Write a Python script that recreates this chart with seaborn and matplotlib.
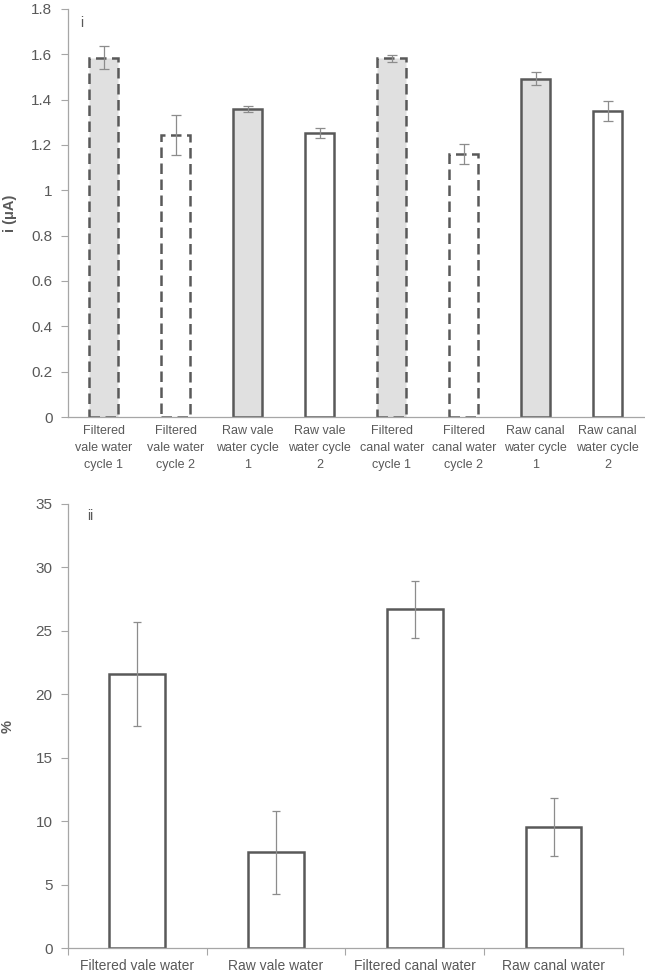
import matplotlib
matplotlib.use("Agg")
import matplotlib.pyplot as plt
import seaborn as sns
import pandas as pd
import numpy as np

# ---- data ----
top_labels = ["Filtered\nvale water\ncycle 1", "Filtered\nvale water\ncycle 2",
              "Raw vale\nwater cycle\n1", "Raw vale\nwater cycle\n2",
              "Filtered\ncanal water\ncycle 1", "Filtered\ncanal water\ncycle 2",
              "Raw canal\nwater cycle\n1", "Raw canal\nwater cycle\n2"]
top_values = [1.585, 1.244, 1.359, 1.254, 1.582, 1.160, 1.493, 1.351]
top_errors = [0.050, 0.088, 0.013, 0.022, 0.017, 0.043, 0.029, 0.044]
top_filled = [True, False, True, False, True, False, True, False]
top_dashed = [True, True, False, False, True, True, False, False]
top_yticks = ["0", "0.2", "0.4", "0.6", "0.8", "1", "1.2", "1.4", "1.6", "1.8"]

bot_labels = ["Filtered vale water", "Raw vale water", "Filtered canal water", "Raw canal water"]
bot_values = [21.6, 7.55, 26.7, 9.55]
bot_errors = [4.07, 3.3, 2.25, 2.27]

sns.set_style("white")
plt.rcParams["font.family"] = ["Liberation Sans", "DejaVu Sans"]

TXT = "#595959"
EDGE = "#595959"
SPINE = "#a6a6a6"
ERR = "#8c8c8c"

fig = plt.figure(figsize=(6.45, 9.75), dpi=100)
ax1 = fig.add_axes([0.105, 0.5723, 0.893, 0.4185])
ax2 = fig.add_axes([0.105, 0.0274, 0.861, 0.4557])

# ---- top panel ----
df1 = pd.DataFrame({"label": top_labels, "value": top_values})
sns.barplot(data=df1, x="label", y="value", ax=ax1, width=0.41, color="white",
            edgecolor=EDGE, linewidth=1.8, errorbar=None)
for p, filled, dashed in zip(ax1.patches, top_filled, top_dashed):
    p.set_facecolor("#e0e0e0" if filled else "white")
    p.set_edgecolor(EDGE)
    if dashed:
        p.set_linestyle((0, (4.2, 2.2)))
ax1.errorbar(x=np.arange(len(top_values)), y=top_values, yerr=top_errors, fmt="none",
             ecolor=ERR, elinewidth=0.9, capsize=3.5, capthick=0.9)
ax1.set_ylim(0, 1.8)
ax1.set_yticks(np.arange(0, 1.81, 0.2), top_yticks)
ax1.set_xlim(-0.5, len(top_values) - 0.5)
ax1.set_xticks(np.arange(len(top_labels)), top_labels, linespacing=1.55)
ax1.set_xlabel("")
ax1.set_ylabel("i (μA)", fontsize=10.5, fontweight="bold", color=TXT)
ax1.yaxis.set_label_coords(-0.088, 0.5)
ax1.tick_params(axis="x", bottom=False, length=0, labelsize=9, labelcolor=TXT, pad=6)
ax1.tick_params(axis="y", left=True, direction="out", length=5, width=0.8, color=SPINE,
                labelsize=11, labelcolor=TXT, pad=6)
ax1.text(0.022, 0.955, "i", transform=ax1.transAxes, fontsize=10, color=TXT)

# ---- bottom panel ----
df2 = pd.DataFrame({"label": bot_labels, "value": bot_values})
sns.barplot(data=df2, x="label", y="value", ax=ax2, width=0.4, color="white",
            edgecolor=EDGE, linewidth=1.8, errorbar=None)
ax2.errorbar(x=np.arange(len(bot_values)), y=bot_values, yerr=bot_errors, fmt="none",
             ecolor=ERR, elinewidth=0.9, capsize=3, capthick=0.9)
ax2.set_ylim(0, 35)
ax2.set_yticks(np.arange(0, 36, 5))
ax2.set_xlim(-0.5, len(bot_values) - 0.5)
ax2.set_xticks(np.arange(-0.5, len(bot_values)), minor=True)
ax2.set_xlabel("")
ax2.set_ylabel("%", fontsize=10.5, fontweight="bold", color=TXT)
ax2.yaxis.set_label_coords(-0.096, 0.5)
ax2.tick_params(axis="x", which="major", bottom=False, length=0, labelsize=10, labelcolor=TXT, pad=8)
ax2.tick_params(axis="x", which="minor", bottom=True, direction="out", length=5, color=SPINE, width=0.8)
ax2.tick_params(axis="y", left=True, direction="out", length=5, width=0.8, color=SPINE,
                labelsize=11, labelcolor=TXT, pad=6)
ax2.text(0.035, 0.965, "ii", transform=ax2.transAxes, fontsize=10, color=TXT)

for ax in (ax1, ax2):
    for s in ("top", "right"):
        ax.spines[s].set_visible(False)
    for s in ("left", "bottom"):
        ax.spines[s].set_color(SPINE)
        ax.spines[s].set_linewidth(0.9)

fig.savefig("out.png", dpi=100)
